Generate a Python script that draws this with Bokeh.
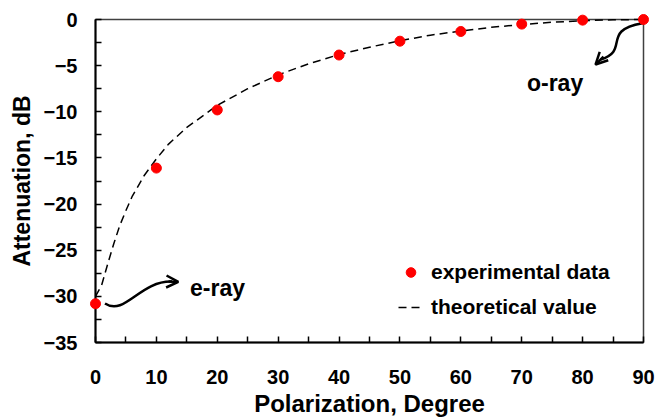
from bokeh.plotting import figure
from bokeh.models import FixedTicker, Legend, LegendItem, Arrow, OpenHead, Range1d
from bokeh.core.properties import value
from bokeh.embed import file_html
from bokeh.resources import INLINE

# measured points
angles = [0, 10, 20, 30, 40, 50, 60, 70, 80, 90]
measured = [-30.8, -16.1, -9.8, -6.2, -3.85, -2.35, -1.3, -0.5, -0.07, 0.0]

# theoretical curve
theory_angles = [0, 1, 2, 3, 4, 5, 6, 8, 10, 12, 15, 20, 25, 30, 35, 40, 45,
                 50, 55, 60, 65, 70, 75, 80, 85, 90]
theory = [-30.0, -28.8, -26.5, -24.3, -22.3, -20.7, -19.2, -16.9, -15.1, -13.5,
          -11.7, -9.3, -7.5, -6.0, -4.8, -3.8, -3.0, -2.3, -1.7, -1.25, -0.85,
          -0.54, -0.3, -0.13, -0.03, 0.0]

x_ticks = [0, 10, 20, 30, 40, 50, 60, 70, 80, 90]
x_minor = [5, 15, 25, 35, 45, 55, 65, 75, 85]
y_ticks = [-35, -30, -25, -20, -15, -10, -5, 0]
y_minor = [-32.5, -27.5, -22.5, -17.5, -12.5, -7.5, -2.5]

FONT = "Liberation Sans"

p = figure(width=655, height=419, x_range=Range1d(0, 90), y_range=Range1d(-35, 0),
           output_backend="svg", toolbar_location=None,
           min_border_left=95, min_border_right=12, min_border_top=19,
           min_border_bottom=77)
p.grid.visible = False
p.outline_line_color = "#404040"
p.outline_line_width = 1.5
p.background_fill_color = "white"
p.border_fill_color = "white"

p.xaxis.ticker = FixedTicker(ticks=x_ticks, minor_ticks=x_minor)
p.yaxis.ticker = FixedTicker(ticks=y_ticks, minor_ticks=y_minor)
for ax in (p.xaxis[0], p.yaxis[0]):
    ax.axis_line_width = 2
    ax.axis_line_color = "black"
    ax.major_tick_in = 6
    ax.major_tick_out = 0
    ax.minor_tick_in = 6
    ax.minor_tick_out = 0
    ax.major_tick_line_width = 1.5
    ax.minor_tick_line_width = 1.5
    ax.major_label_text_font = FONT
    ax.major_label_text_font_style = "bold"
    ax.major_label_text_font_size = "20px"
    ax.major_label_text_color = "black"
    ax.axis_label_text_font = FONT
    ax.axis_label_text_font_style = "bold"
    ax.axis_label_text_color = "black"

p.xaxis.axis_label = "Polarization, Degree"
p.yaxis.axis_label = "Attenuation, dB"
p.xaxis.axis_label_text_font_size = "24px"
p.yaxis.axis_label_text_font_size = "23px"
p.xaxis.major_label_standoff = 27
p.xaxis.axis_label_standoff = 3
p.yaxis.major_label_standoff = 18
p.yaxis.axis_label_standoff = 6

line_r = p.line(theory_angles, theory, line_color="black", line_width=1.5,
                line_dash="8 5", level="overlay")
dot_r = p.scatter(angles, measured, size=10, fill_color="#FF0000",
                  line_color="#FF0000", level="overlay")

legend = Legend(items=[LegendItem(label="experimental data", renderers=[dot_r]),
                       LegendItem(label="theoretical value", renderers=[line_r])],
                location=(303, 23), padding=0, spacing=11,
                glyph_width=25, glyph_height=24, label_height=24,
                label_standoff=8, border_line_color=None,
                background_fill_alpha=0,
                label_text_font=FONT, label_text_font_style="bold",
                label_text_font_size="21px", label_text_color="black")
p.add_layout(legend, "center")

# annotations
p.text(x=[15.52], y=[-29.14], text=["e-ray"], text_font=value(FONT),
       text_font_style="bold", text_font_size="23px", text_color="black",
       text_baseline="alphabetic", text_align="left")
p.text(x=[70.86], y=[-6.83], text=["o-ray"], text_font=value(FONT),
       text_font_style="bold", text_font_size="23px", text_color="black",
       text_baseline="alphabetic", text_align="left")

p.bezier(x0=[1.56], y0=[-30.77], x1=[12.56], y1=[-28.39],
         cx0=[4.84], cy0=[-32.18], cx1=[7.31], cy1=[-28.28],
         line_color="black", line_width=2.5)
p.add_layout(Arrow(end=OpenHead(size=12, line_width=2.5, line_color="black"),
                   x_start=12.0, y_start=-28.4, x_end=13.6, y_end=-28.44,
                   line_width=2.5, line_color="black"))

p.bezier(x0=[89.8], y0=[-0.4], x1=[82.94], y1=[-4.33],
         cx0=[82.94], cy0=[-1.19], cx1=[87.86], cy1=[-3.36],
         line_color="black", line_width=2.5)
p.add_layout(Arrow(end=OpenHead(size=12, line_width=2.5, line_color="black"),
                   x_start=83.43, y_start=-4.01, x_end=82.12, y_end=-4.88,
                   line_width=2.5, line_color="black"))

open("out.html", "w").write(file_html(p, INLINE))
